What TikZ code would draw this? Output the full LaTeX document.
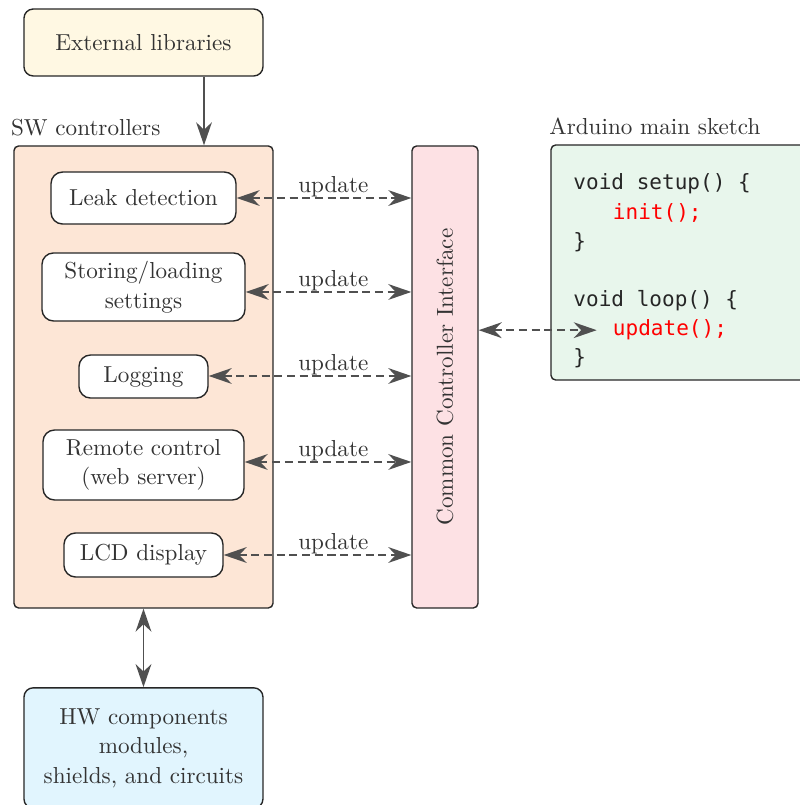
\documentclass[tikz,border=0pt]{standalone}
\usepackage{fontspec}
\setmonofont{DejaVu Sans Mono}
\usetikzlibrary{arrows.meta, positioning, calc}
\definecolor{txtgray}{RGB}{51,51,51}
\definecolor{arrgray}{RGB}{80,80,80}
\definecolor{extfill}{RGB}{255,248,227}
\definecolor{swfill}{RGB}{253,230,214}
\definecolor{ccifill}{RGB}{253,225,228}
\definecolor{inofill}{RGB}{232,246,236}
\definecolor{hwfill}{RGB}{225,245,254}

\begin{document}
\begin{tikzpicture}[
  box/.style={draw=black!85,semithick,rounded corners=4pt,text=txtgray,align=center,
              font=\fontsize{10}{12.8}\selectfont},
  tall/.style={box,rounded corners=2pt},
  ctrl/.style={box,fill=white,rounded corners=5pt},
  arr/.style={-{Stealth[length=3.5mm,width=2.4mm]},arrgray,thick},
  biarr/.style={{Stealth[length=3.5mm,width=2.4mm]}-{Stealth[length=3.5mm,width=2.4mm]},arrgray,thick},
  upd/.style={biarr,dash pattern=on 3.5pt off 2pt},
  lbl/.style={text=txtgray,inner sep=0pt},
  code/.style={inner sep=0pt,anchor=base west,text=black!85,
               font=\fontsize{9.1}{12.6}\selectfont\ttfamily}
]
\useasboundingbox (0,0) rectangle (12.16,12.236);
\clip (0,0) rectangle (12.16,12.236);

% libraries and controller group
\node[box, fill=extfill, minimum width=3.633cm, minimum height=1.018cm] (ext) at (2.181,11.59) {External libraries};
\node[tall, fill=swfill, minimum width=3.937cm, minimum height=7.022cm] (sw) at (2.181,6.506) {};
\node[lbl, above right=0.137cm and -0.04cm of sw.north west] (swlbl) {SW controllers};

\node[ctrl, minimum width=2.812cm, minimum height=0.79cm]  (leak)   at (2.181,9.226) {Leak detection};
\node[ctrl, minimum width=3.086cm, minimum height=1.034cm] (store)  at (2.181,7.874) {Storing/loading\\ settings};
\node[ctrl, minimum width=1.961cm, minimum height=0.654cm] (logg)   at (2.181,6.513) {Logging};
\node[ctrl, minimum width=3.055cm, minimum height=1.064cm] (remote) at (2.181,5.168) {Remote control\\ (web server)};
\node[ctrl, minimum width=2.417cm, minimum height=0.669cm] (lcd)    at (2.181,3.8)   {LCD display};

% common interface
\node[tall, fill=ccifill, minimum width=1.003cm, minimum height=7.022cm] (cci) at (6.764,6.506) {\rotatebox{90}{Common Controller Interface}};

% hardware
\node[box, fill=hwfill, minimum width=3.633cm, minimum height=1.83cm] (hw) at (2.181,0.866) {HW components\\ modules,\\ shields, and circuits};

% main sketch
\node[tall, fill=inofill, minimum width=4.241cm, minimum height=3.572cm] (ino) at (10.496,8.246) {};
\node[lbl, above right=0.137cm and -0.02cm of ino.north west] (inolbl) {Arduino main sketch};
\node[code] (ln1) at (8.71,9.348) {void setup() \{};
\node[code, text=red] (ln2) at (9.31,8.907) {init();};
\node[code] (ln3) at (8.71,8.466) {\}};
\node[code] (ln4) at (8.71,7.570) {void loop() \{};
\node[code, text=red] (ln5) at (9.31,7.129) {update();};
\node[code] (ln6) at (8.71,6.688) {\}};

% connectors
\draw[arr] ([xshift=0.92cm]ext.south) -- ([xshift=0.92cm]ext.south |- sw.north);
\draw[biarr] (sw.south) -- (hw.north);
\foreach \n/\dy in {leak/0,store/-0.076,logg/0.008,remote/0.046,lcd/0}
  \draw[upd] ([yshift=\dy cm]\n.east) -- ([yshift=\dy cm]\n.east -| cci.west)
    node[lbl, above, pos=1, xshift=-1.186cm] {update};
\draw[upd] (cci.east |- ln5.west) -- ([xshift=-0.24cm]ln5.west);
\end{tikzpicture}
\end{document}
